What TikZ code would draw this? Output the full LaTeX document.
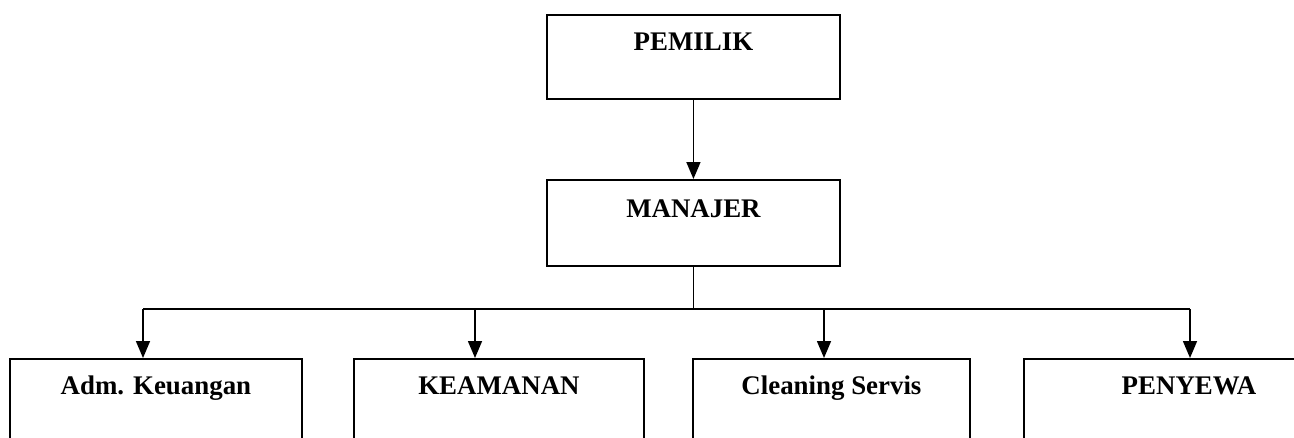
\documentclass[tikz,border=0pt]{standalone}
\usepackage{fontspec}
\setmainfont{Liberation Serif}
\usetikzlibrary{arrows.meta,positioning}

\begin{document}
\begin{tikzpicture}[>={Triangle[width=0.28cm,length=0.34cm]},x=0.02cm,y=-0.02cm,
  kotak/.style={draw,line width=1.1pt,inner sep=0pt,text height=0.72cm,text depth=0.96cm,
    anchor=north west,font=\bfseries\fontsize{15.3}{18}\selectfont},
  bawah/.style={kotak,text depth=1.4cm},
  garis/.style={line width=0.9pt}]
  \useasboundingbox (0,0) rectangle (1294,437);
  \clip (0,0) rectangle (1294,437);
  \node[kotak,minimum width=5.86cm] (pemilik) at (546,14) {PEMILIK};
  \node[kotak,minimum width=5.86cm,text height=0.76cm] (manajer) at (546,179) {MANAJER};
  \node[bawah,minimum width=5.84cm] (adm) at (9,358) {Adm. Keuangan};
  \node[bawah,minimum width=5.8cm] (keamanan) at (353,358) {KEAMANAN};
  \node[bawah,minimum width=5.54cm] (cleaning) at (692,358) {Cleaning Servis};
  \node[bawah,minimum width=6.6cm] (penyewa) at (1023,358) {PENYEWA};
  \coordinate (ka1) at (143,309);
  \coordinate (ka2) at (475,309);
  \coordinate (ka3) at (824,309);
  \coordinate (ka4) at (1190,309);
  \draw[garis,->] (pemilik) -- (manajer);
  \draw[garis] (manajer.south) -- (manajer.south |- ka1);
  \draw[garis] (ka1) -- (ka4);
  \draw[garis,->] (ka1) -- (ka1 |- adm.north);
  \draw[garis,->] (ka2) -- (ka2 |- keamanan.north);
  \draw[garis,->] (ka3) -- (ka3 |- cleaning.north);
  \draw[garis,->] (ka4) -- (ka4 |- penyewa.north);
\end{tikzpicture}
\end{document}
